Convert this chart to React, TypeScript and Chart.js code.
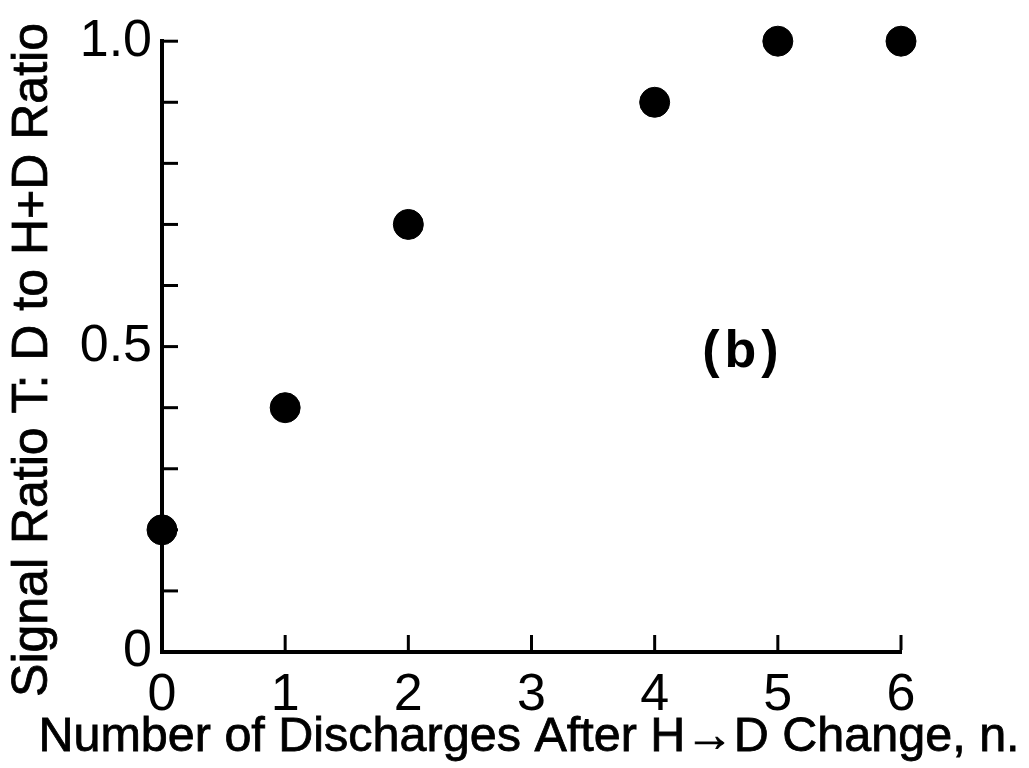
import React, { useEffect, useRef } from "react";
import { Chart, registerables } from "chart.js";

Chart.register(...registerables);

// Discharge number after the H→D gas change
const dischargeNumbers = [0, 1, 2, 4, 5, 6];
// Signal ratio T: D relative to H+D ratio
const signalRatios = [0.2, 0.4, 0.7, 0.9, 1.0, 1.0];

const xTickValues = [0, 1, 2, 3, 4, 5, 6];
const yLabeledTicks = [
  { value: 0, text: "0" },
  { value: 0.5, text: "0.5" },
  { value: 1.0, text: "1.0" },
];

const xTitle = "Number of Discharges After H\u2192D Change, n.";
const yTitle = "Signal Ratio T: D to H+D Ratio";
const panelLabel = "(b)";

const FONT = "'Liberation Sans', Arial, sans-serif";
const INK = "#000";

// Draws the tick marks pointing into the plot, plus axis titles and panel label
const decorations = {
  id: "decorations",
  beforeDatasetsDraw(chart: any) {
    const { ctx, scales } = chart;
    const x = scales.x;
    const y = scales.y;
    ctx.save();
    ctx.strokeStyle = INK;
    ctx.lineWidth = 3;
    ctx.lineCap = "butt";
    // y ticks every 0.1, pointing right
    y.ticks.forEach((t: any) => {
      const py = y.getPixelForValue(t.value);
      ctx.beginPath();
      ctx.moveTo(x.left + 2, py);
      ctx.lineTo(x.left + 16, py);
      ctx.stroke();
    });
    // x ticks pointing up
    x.ticks.forEach((t: any) => {
      if (t.value === 0) return;
      const px = x.getPixelForValue(t.value);
      ctx.beginPath();
      ctx.moveTo(px, y.bottom - 2);
      ctx.lineTo(px, y.bottom - 17);
      ctx.stroke();
    });
    ctx.restore();
  },
  afterDraw(chart: any) {
    const { ctx, scales } = chart;
    const x = scales.x;
    const y = scales.y;
    ctx.save();
    ctx.fillStyle = INK;
    ctx.strokeStyle = INK;
    ctx.lineWidth = 0.8;
    // x-axis title
    ctx.font = `48.5px ${FONT}`;
    ctx.textAlign = "center";
    ctx.textBaseline = "alphabetic";
    ctx.fillText(xTitle, 529, 751);
    ctx.strokeText(xTitle, 529, 751);
    // y-axis title
    ctx.save();
    ctx.font = `50px ${FONT}`;
    ctx.translate(47, 360);
    ctx.rotate(-Math.PI / 2);
    ctx.fillText(yTitle, 0, 0);
    ctx.strokeText(yTitle, 0, 0);
    ctx.restore();
    // panel label
    ctx.font = `bold 52px ${FONT}`;
    (ctx as any).letterSpacing = "5px";
    ctx.textBaseline = "middle";
    ctx.fillText(panelLabel, x.getPixelForValue(4.7) + 2, y.getPixelForValue(0.49));
    ctx.restore();
  },
};

export default function App() {
  const canvasRef = useRef<HTMLCanvasElement | null>(null);

  useEffect(() => {
    if (!canvasRef.current) return;
    const chart = new Chart(canvasRef.current, {
      type: "scatter",
      data: {
        datasets: [
          {
            data: dischargeNumbers.map((n, i) => ({ x: n, y: signalRatios[i] })),
            backgroundColor: INK,
            borderColor: INK,
            pointRadius: 15,
            pointHoverRadius: 15,
            clip: false as any,
          },
        ],
      },
      options: {
        animation: false,
        responsive: false,
        events: [],
        layout: { padding: { left: 0, top: 41, right: 128, bottom: 0 } },
        plugins: {
          legend: { display: false },
          tooltip: { enabled: false },
        },
        scales: {
          x: {
            type: "linear",
            min: 0,
            max: 6,
            afterFit(scale: any) {
              scale.height = 116;
            },
            afterBuildTicks(scale: any) {
              scale.ticks = xTickValues.map((v) => ({ value: v }));
            },
            grid: { display: false, drawTicks: false },
            border: { display: true, color: INK, width: 4 },
            ticks: {
              color: INK,
              padding: 12,
              font: { family: FONT, size: 52 },
              autoSkip: false,
              maxRotation: 0,
              callback: (v: any) => String(v),
            },
          },
          y: {
            type: "linear",
            min: 0,
            max: 1,
            afterFit(scale: any) {
              scale.width = 162;
            },
            grid: { display: false, drawTicks: false },
            border: { display: true, color: INK, width: 4 },
            ticks: {
              color: INK,
              padding: 10,
              stepSize: 0.1,
              autoSkip: false,
              font: { family: FONT, size: 52 },
              callback: (v: any) => {
                const hit = yLabeledTicks.find((t) => Math.abs(t.value - Number(v)) < 1e-6);
                return hit ? hit.text : "";
              },
            },
          },
        },
      },
      plugins: [decorations],
    });
    return () => chart.destroy();
  }, []);

  return (
    <div style={{ position: "fixed", left: 0, top: 0, width: 1029, height: 768, background: "#fff" }}>
      <canvas ref={canvasRef} width={1029} height={768} />
    </div>
  );
}
